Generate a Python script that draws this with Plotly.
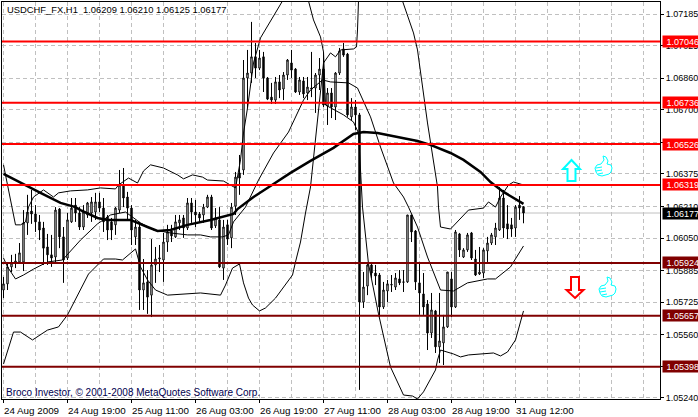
import plotly.graph_objects as go

bar_index = list(range(131))
open_ = [1.05787,1.05818,1.05904,1.05924,1.05929,1.05929,1.06127,1.06187,1.06172,1.06132,
1.06101,1.06005,1.05965,1.05954,1.06197,1.06056,1.05949,1.06132,1.06217,1.06177,
1.06106,1.06167,1.06177,1.06182,1.06233,1.06202,1.06157,1.06132,1.06117,1.06192,
1.06319,1.06258,1.06202,1.06056,1.06106,1.05787,1.05828,1.05761,1.05914,1.05944,
1.05939,1.06030,1.06086,1.06056,1.06127,1.06152,1.06101,1.06228,1.06182,1.06172,
1.06167,1.06207,1.06258,1.06112,1.06142,1.05898,1.06117,1.06051,1.06212,1.06380,
1.06395,1.06861,1.06886,1.06968,1.06911,1.06968,1.06861,1.06764,1.06749,1.06841,
1.06805,1.06876,1.06937,1.06906,1.06790,1.06846,1.06785,1.06810,1.06810,1.06876,
1.06906,1.06719,1.06785,1.06714,1.06886,1.07008,1.06982,1.06664,1.06714,1.06674,
1.05726,1.05807,1.05914,1.05873,1.05863,1.05701,1.05782,1.05812,1.05802,1.05843,
1.05826,1.05828,1.06167,1.06086,1.05823,1.05767,1.05716,1.05569,1.05681,1.05499,
1.05519,1.05600,1.05843,1.05701,1.06071,1.05954,1.05990,1.06076,1.05944,1.05868,
1.05873,1.05985,1.06025,1.06056,1.06091,1.06253,1.06122,1.06117,1.06101,1.06217,1.06209]
high = [1.05853,1.05924,1.05965,1.05970,1.06025,1.06192,1.06269,1.06294,1.06217,1.06167,
1.06132,1.06071,1.06066,1.06207,1.06202,1.06106,1.06177,1.06253,1.06253,1.06207,
1.06217,1.06233,1.06258,1.06279,1.06279,1.06253,1.06167,1.06152,1.06207,1.06395,
1.06405,1.06284,1.06217,1.06142,1.06132,1.05944,1.05888,1.06045,1.06005,1.06015,
1.06076,1.06117,1.06117,1.06167,1.06167,1.06167,1.06253,1.06253,1.06243,1.06182,
1.06223,1.06269,1.06269,1.06202,1.06207,1.06142,1.06142,1.06228,1.06385,1.06471,
1.06952,1.07003,1.07145,1.07038,1.07003,1.06993,1.06866,1.06836,1.06866,1.06876,
1.06891,1.06957,1.07003,1.06911,1.06866,1.06866,1.06866,1.06993,1.06886,1.06962,
1.06988,1.06810,1.06810,1.06891,1.07013,1.07038,1.06988,1.06759,1.06749,1.06684,
1.05878,1.05929,1.05929,1.05914,1.05873,1.05828,1.05838,1.05863,1.05873,1.05888,
1.05888,1.06167,1.06167,1.06091,1.05924,1.05873,1.05736,1.05772,1.05686,1.05772,
1.05661,1.05878,1.05878,1.06091,1.06076,1.05999,1.06076,1.06081,1.05990,1.06005,
1.05999,1.06056,1.06076,1.06127,1.06309,1.06294,1.06217,1.06152,1.06217,1.06263,1.06210]
low = [1.05746,1.05787,1.05878,1.05898,1.05924,1.05883,1.06066,1.06122,1.06081,1.06040,
1.05914,1.05914,1.05904,1.05929,1.05999,1.05823,1.05939,1.06127,1.06132,1.06091,
1.06091,1.06152,1.06132,1.06142,1.06182,1.06081,1.06040,1.06040,1.06066,1.06177,
1.06207,1.06142,1.06015,1.06015,1.05686,1.05686,1.05666,1.05650,1.05823,1.05878,
1.05828,1.05980,1.06030,1.06051,1.06091,1.06051,1.06091,1.06127,1.06106,1.06132,
1.06127,1.06202,1.06091,1.06101,1.05898,1.05838,1.06015,1.05999,1.06167,1.06269,
1.06370,1.06709,1.06836,1.06861,1.06901,1.06790,1.06749,1.06729,1.06729,1.06759,
1.06749,1.06851,1.06861,1.06785,1.06775,1.06759,1.06749,1.06764,1.06684,1.06800,
1.06714,1.06623,1.06658,1.06648,1.06876,1.06968,1.06664,1.06648,1.06597,1.05281,
1.05696,1.05761,1.05848,1.05812,1.05650,1.05691,1.05726,1.05777,1.05787,1.05812,
1.05777,1.05823,1.06030,1.05787,1.05661,1.05661,1.05483,1.05544,1.05468,1.05417,
1.05407,1.05595,1.05650,1.05696,1.05954,1.05949,1.05980,1.05939,1.05858,1.05863,
1.05848,1.05929,1.06015,1.06015,1.06086,1.06051,1.06045,1.06056,1.06056,1.06142,1.06125]
close = [1.05818,1.05904,1.05924,1.05934,1.05975,1.06127,1.06182,1.06172,1.06132,1.06091,
1.05999,1.05965,1.05949,1.06192,1.06056,1.05939,1.06142,1.06202,1.06177,1.06106,
1.06182,1.06228,1.06233,1.06233,1.06202,1.06132,1.06091,1.06091,1.06202,1.06319,
1.06253,1.06202,1.06091,1.06106,1.05787,1.05823,1.05751,1.05914,1.05944,1.05949,
1.06030,1.06081,1.06061,1.06132,1.06142,1.06101,1.06228,1.06182,1.06167,1.06152,
1.06207,1.06258,1.06101,1.06152,1.05904,1.06106,1.06045,1.06207,1.06359,1.06354,
1.06861,1.06886,1.06968,1.06911,1.06962,1.06861,1.06754,1.06749,1.06841,1.06800,
1.06876,1.06952,1.06901,1.06790,1.06851,1.06780,1.06815,1.06805,1.06876,1.06906,
1.06724,1.06785,1.06714,1.06886,1.06998,1.06977,1.06674,1.06714,1.06674,1.05726,
1.05802,1.05914,1.05873,1.05858,1.05701,1.05787,1.05818,1.05815,1.05848,1.05823,
1.05828,1.06167,1.06081,1.05828,1.05772,1.05701,1.05569,1.05686,1.05499,1.05529,
1.05600,1.05878,1.05701,1.06081,1.05990,1.05990,1.06066,1.05949,1.05863,1.05878,
1.05990,1.06025,1.06066,1.06101,1.06253,1.06101,1.06096,1.06096,1.06207,1.06202,1.06177]

ma_x = [0,4.25,9.25,14.25,18,19.25,23.5,26,31.75,36,38.5,41.75,46,51.75,57.5,58.5,62.5,67.5,71.75,76.75,82.5,87.5,90,93.5,98.5,103.5,106.75,111.75,115,119.25,121.75,125,130]
ma_y = [1.06375,1.06329,1.06279,1.06228,1.06207,1.06192,1.06152,1.06142,1.06142,1.06106,1.06086,1.06091,1.06117,1.06142,1.06172,1.06197,1.06258,1.06324,1.06380,1.06441,1.06507,1.06577,1.06587,1.06582,1.06562,1.06542,1.06522,1.06481,1.06446,1.06385,1.06334,1.06284,1.06223]

band_a_x = [0,1.25,1.75,3,4.25,5.5,6.25,7.5,10,11,12.5,13.75,16.75,21,24.25,28,28.75,31.25,33.5,35,36.75,40,43.5,45,47.25,49.75,51,55,58,59.25,60,61,62.5,64.25,67.25,69.75,73,76.25,77.5,79.25,80,80.5,85,87.5,88.75,89.75,91.25,93.75,96.75,100,102.25,103.5,105,108,108.5,109.25,112.5,114.25,116.25,122.5,124.25,126,128,128.75,130]
band_a_y = [1.06421,1.06294,1.06253,1.06117,1.06117,1.06132,1.06207,1.06258,1.06294,1.06279,1.06258,1.06279,1.06289,1.06294,1.06304,1.06299,1.06319,1.06354,1.06329,1.06390,1.06421,1.06405,1.06370,1.06350,1.06370,1.06359,1.06344,1.06339,1.06304,1.06446,1.06582,1.06709,1.06937,1.07064,1.07170,1.07251,1.07383,1.07251,1.07155,1.07069,1.06993,1.06724,1.06674,1.06638,1.06582,1.06207,1.05919,1.05666,1.05397,1.05255,1.05250,1.05235,1.05271,1.05382,1.05432,1.05483,1.05463,1.05448,1.05458,1.05468,1.05453,1.05473,1.05534,1.05589,1.05681]

band_b_x = [0,2.5,4.25,7.25,11,13.75,16,19.25,21.25,25,28,29.75,33,34.25,36,38,41,49.25,54.25,55.5,57.25,59,60,61.25,62.25,64,65.5,68,72.25,73,74.25,75.5,76.75,80,81.75,83,84.25,87.5,88.25,88.5,88.75,94.25,99.75,102.5,103.5,106,108.5,108.75,109.25,111.75,113,116.25,120,121.25,123,124.25,126.25,127.5,130]
band_b_y = [1.05412,1.05574,1.05574,1.05534,1.05584,1.05600,1.05661,1.05787,1.05868,1.05944,1.05944,1.05939,1.05995,1.05904,1.05838,1.05787,1.05761,1.05772,1.05761,1.05812,1.05898,1.05919,1.05823,1.05746,1.05711,1.05681,1.05696,1.05746,1.05863,1.05929,1.06030,1.06177,1.06309,1.06937,1.06988,1.06968,1.07003,1.07008,1.07018,1.07104,1.07251,1.07413,1.07251,1.07089,1.07003,1.06633,1.06309,1.06207,1.06106,1.06096,1.06122,1.06192,1.06202,1.06233,1.06207,1.06258,1.06319,1.06334,1.06319]

band_m_x = [0,1,3,5,7.5,11,14.75,19.25,23.5,26.75,30.5,32.25,34.25,37.5,41.75,46,49.25,51.75,54.75,56.25,57.5,60.5,63.75,67.5,71.25,75,76.75,79.75,81.75,86.25,88.5,91.75,94.25,97.5,100,101.25,103.5,106,108.5,109.25,112.5,116,121,123,126.75,128.5,130]
band_m_y = [1.05949,1.05904,1.05843,1.05863,1.05893,1.05929,1.05939,1.06040,1.06122,1.06167,1.06182,1.06157,1.06127,1.06091,1.06076,1.06066,1.06066,1.06056,1.06056,1.06066,1.06132,1.06207,1.06344,1.06481,1.06587,1.06749,1.06800,1.06851,1.06841,1.06836,1.06810,1.06664,1.06511,1.06329,1.06258,1.06207,1.06106,1.05954,1.05818,1.05787,1.05782,1.05823,1.05843,1.05843,1.05904,1.05965,1.06010]

resistance_levels = [1.07046,1.06736,1.06526,1.06319]
support_levels = [1.05924,1.05657,1.05398]
last_price = 1.06177

y_ticks = [1.07185,1.07025,1.06860,1.06700,1.06535,1.06375,1.06210,1.06050,1.05885,1.05725,1.05560,1.05400,1.05240]
y_tick_labels = ["1.07185","1.07025","1.06860","1.06700","","1.06375","1.06210","1.06050","1.05885","1.05725","1.05560","","1.05240"]
x_tick_index = [0,16,32,48,64,80,96,112,128]
x_tick_labels = ["24 Aug 2009","24 Aug 19:00","25 Aug 11:00","26 Aug 03:00","26 Aug 19:00","27 Aug 11:00","28 Aug 03:00","28 Aug 19:00","31 Aug 12:00"]
x_grid_index = [8,24,40,56,72,88,104,120,136,144,152,160]

W, H = 698, 417
L, R, T, B = 2, 38, 2, 18
pw, ph = W - L - R, H - T - B
FONT = "Liberation Sans"
GRID = "#C0C0C0"

def px(x):
    return (x - L) / pw

def py(y):
    return 1 - (y - T) / ph

def poly(points):
    return "M" + " L".join(f"{px(a)},{py(b)}" for a, b in points) + " Z"

fig = go.Figure()
fig.add_trace(go.Candlestick(x=bar_index, open=open_, high=high, low=low, close=close,
    increasing=dict(line=dict(color="black", width=1), fillcolor="white"),
    decreasing=dict(line=dict(color="black", width=1), fillcolor="black"),
    whiskerwidth=0, hoverinfo="skip", showlegend=False))
for xs, ys in [(band_a_x, band_a_y), (band_b_x, band_b_y), (band_m_x, band_m_y)]:
    fig.add_trace(go.Scatter(x=xs, y=ys, mode="lines", line=dict(color="black", width=1),
                             hoverinfo="skip", showlegend=False))
fig.add_trace(go.Scatter(x=ma_x, y=ma_y, mode="lines", line=dict(color="black", width=2.5),
                         hoverinfo="skip", showlegend=False))

fig.add_hline(y=last_price, line=dict(color=GRID, width=1), layer="below")
for lv in resistance_levels:
    fig.add_hline(y=lv, line=dict(color="#FF0000", width=2))
for lv in support_levels:
    fig.add_hline(y=lv, line=dict(color="#800000", width=2))

def price_tag(v, bg):
    fig.add_annotation(xref="paper", yref="y", x=1.003, y=v, xanchor="left", yanchor="middle",
        text=f"{v:.5f}", showarrow=False, bgcolor=bg, font=dict(family=FONT, size=9, color="white"),
        width=36, height=11, align="right", borderpad=0)

for lv in resistance_levels:
    price_tag(lv, "#FF0000")
for lv in support_levels:
    price_tag(lv, "#800000")
price_tag(last_price, "#000000")

for i, lab in zip(x_tick_index, x_tick_labels):
    fig.add_annotation(xref="x", yref="paper", x=i, y=py(404), xanchor="left", yanchor="top",
        xshift=-1, text=lab, showarrow=False, font=dict(family=FONT, size=9.8, color="black"),
        borderpad=0)

fig.add_annotation(xref="paper", yref="paper", x=px(6), y=py(10), xanchor="left", yanchor="middle",
    text="USDCHF_FX,H1  1.06209 1.06210 1.06125 1.06177", showarrow=False,
    font=dict(family=FONT, size=9.4, color="black"), borderpad=0)
fig.add_annotation(xref="paper", yref="paper", x=px(5), y=py(392), xanchor="left", yanchor="middle",
    text="Broco Investor, © 2001-2008 MetaQuotes Software Corp.", showarrow=False,
    font=dict(family=FONT, size=10, color="#000050"), borderpad=0)

def arrow(cx, top, bottom, half, shaft, neck, color, up=True):
    if up:
        pts = [(cx, top), (cx + half, neck), (cx + shaft, neck), (cx + shaft, bottom),
               (cx - shaft, bottom), (cx - shaft, neck), (cx - half, neck)]
    else:
        pts = [(cx, bottom), (cx + half, neck), (cx + shaft, neck), (cx + shaft, top),
               (cx - shaft, top), (cx - shaft, neck), (cx - half, neck)]
    fig.add_shape(type="path", xref="paper", yref="paper", path=poly(pts),
                  line=dict(color=color, width=2), fillcolor="white")

arrow(571.5, 160, 181, 8.5, 4, 169, "#00FFFF", up=True)
arrow(575, 277, 298, 8.5, 4, 290, "#FF0000", up=False)

def thumb(ox, oy):
    outline = [(6,8),(9,4),(8,0),(11,1),(13,5),(12,8),(16,9),(17,12),(16,16),(14,18),(7,20),(3,19),(1,16),(0,12),(2,9)]
    fig.add_shape(type="path", xref="paper", yref="paper",
                  path=poly([(ox + a, oy + b) for a, b in outline]),
                  line=dict(color="#00FFFF", width=1), fillcolor="white")
    for a, b, c, d in [(1,12,7,11),(1,15,7,14),(3,18,8,17)]:
        fig.add_shape(type="line", xref="paper", yref="paper", x0=px(ox+a), y0=py(oy+b), x1=px(ox+c), y1=py(oy+d),
                      line=dict(color="#00FFFF", width=1))

thumb(595, 156)
thumb(599, 277)

fig.update_layout(
    width=W, height=H, autosize=False,
    margin=dict(l=L, r=R, t=T, b=B, pad=0, autoexpand=False),
    paper_bgcolor="white", plot_bgcolor="white",
    boxgap=0.5, showlegend=False,
    xaxis=dict(range=[-0.375, 164.125], rangeslider=dict(visible=False), automargin=False,
        tickmode="array", tickvals=x_tick_index, ticktext=[""] * len(x_tick_index),
        ticks="outside", ticklen=3, tickcolor="black", tickwidth=1,
        showline=True, linecolor="black", linewidth=1, mirror=True,
        showgrid=True, gridcolor=GRID, griddash="4px,3px", gridwidth=1, zeroline=False,
        minor=dict(tickvals=x_grid_index, showgrid=True, gridcolor=GRID, griddash="4px,3px", gridwidth=1, ticks="")),
    yaxis=dict(side="right", range=[1.052349, 1.072458], automargin=False,
        tickmode="array", tickvals=y_ticks, ticktext=y_tick_labels,
        ticks="outside", ticklen=3, tickcolor="black", tickwidth=1,
        tickfont=dict(family=FONT, size=9, color="black"),
        showline=True, linecolor="black", linewidth=1, mirror=True,
        showgrid=True, gridcolor=GRID, griddash="4px,3px", gridwidth=1, zeroline=False),
)

fig.write_html("out.html", config=dict(displayModeBar=False),
    post_script="document.body.style.margin='0';document.body.style.overflow='hidden';")
